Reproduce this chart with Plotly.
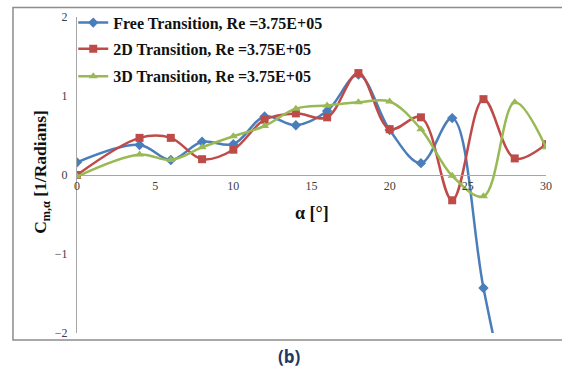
import plotly.graph_objects as go

# Pitch-damping derivative vs angle of attack for three transition models
alpha_free = [0, 4, 6, 8, 10, 12, 14, 16, 18, 20, 22, 24, 26, 28]
cm_free = [0.16, 0.38, 0.19, 0.42, 0.39, 0.74, 0.63, 0.81, 1.27, 0.57, 0.15, 0.72, -1.43, -3.3]

alpha_2d = [0, 4, 6, 8, 10, 12, 14, 16, 18, 20, 22, 24, 26, 28, 30]
cm_2d = [0.0, 0.47, 0.47, 0.20, 0.32, 0.70, 0.78, 0.73, 1.29, 0.58, 0.73, -0.32, 0.96, 0.21, 0.39]

alpha_3d = [0, 4, 6, 8, 10, 12, 14, 16, 18, 20, 22, 24, 26, 28, 30]
cm_3d = [-0.02, 0.26, 0.19, 0.35, 0.49, 0.62, 0.84, 0.88, 0.92, 0.93, 0.58, -0.01, -0.27, 0.92, 0.35]

names = [
    "Free Transition, Re =3.75E+05",
    "2D Transition, Re =3.75E+05",
    "3D Transition, Re =3.75E+05",
]
colors = ["#4A7EBB", "#BE4B48", "#98B954"]
symbols = ["diamond", "square", "triangle-up"]
x_ticks = [0, 5, 10, 15, 20, 25, 30]
y_ticks = [-2, -1, 0, 1, 2]

serif = "Liberation Serif"

fig = go.Figure()
series = [(alpha_free, cm_free), (alpha_2d, cm_2d), (alpha_3d, cm_3d)]
legend_ids = ["legend", "legend2", "legend3"]
for (xs, ys), name, col, sym, lg in zip(series, names, colors, symbols, legend_ids):
    fig.add_trace(go.Scatter(
        x=xs, y=ys, name=name, mode="lines+markers",
        line=dict(color=col, width=2.5, shape="spline", smoothing=1.0),
        marker=dict(color=col, symbol=sym, size=8),
        cliponaxis=True,
        legend=lg,
    ))

legend_font = dict(family=serif, size=16, color="#111111", weight="bold")
legend_common = dict(x=-0.008, xanchor="left", yanchor="middle", yref="container",
                     bgcolor="rgba(0,0,0,0)", font=legend_font)

fig.update_layout(
    width=562, height=372,
    margin=dict(l=77, r=16, t=17, b=39, autoexpand=False),
    paper_bgcolor="white", plot_bgcolor="white",
    showlegend=True,
    legend=dict(y=0.939, **legend_common),
    legend2=dict(y=0.869, **legend_common),
    legend3=dict(y=0.795, **legend_common),
    xaxis=dict(
        range=[0, 30], tickvals=x_ticks, showgrid=False, zeroline=False,
        showline=True, linecolor="#A6A6A6", linewidth=1,
        anchor="free", position=0.5,
        tickfont=dict(family=serif, size=12, color="#404040"),
        ticks="",
    ),
    yaxis=dict(
        range=[-2, 2], tickvals=y_ticks, showgrid=False, zeroline=False,
        showline=True, linecolor="#A6A6A6", linewidth=1,
        tickfont=dict(family=serif, size=12, color="#404040"),
        ticks="", ticklabelstandoff=6,
    ),
    annotations=[
        dict(text="C<sub>m,α</sub> [1/Radians]", xref="paper", yref="paper",
             x=-0.0746, y=0.51, xanchor="center", yanchor="middle",
             textangle=-90, showarrow=False,
             font=dict(family=serif, size=17.5, color="#111111", weight="bold")),
        dict(text="α [°]", xref="x", yref="y", x=15, y=-0.48,
             xanchor="center", yanchor="middle", showarrow=False,
             font=dict(family=serif, size=18, color="#111111", weight="bold")),
        dict(text="(b)", xref="paper", yref="paper", x=0.454, y=-0.073,
             xanchor="center", yanchor="middle", showarrow=False,
             font=dict(family="Open Sans", size=17, color="#1F3864", weight="bold")),
    ],
    shapes=[
        dict(type="rect", xref="paper", yref="paper",
             x0=-0.1365, x1=1.2, y0=-0.022, y1=1.03,
             line=dict(color="#8C8C8C", width=1.5), fillcolor="rgba(0,0,0,0)",
             layer="below"),
    ],
)

fig.write_html("out.html")
